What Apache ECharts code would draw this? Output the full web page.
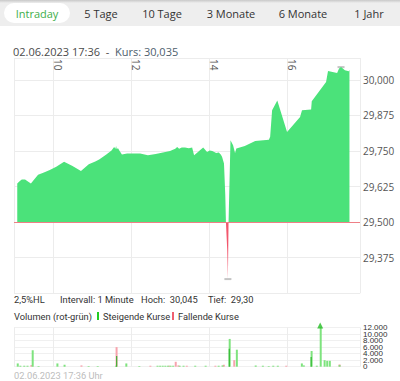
<!DOCTYPE html>
<html><head><meta charset="utf-8">
<script src="https://cdn.jsdelivr.net/npm/echarts@6/dist/echarts.min.js"></script>
<style>html,body{margin:0;padding:0;background:#fff;}#c{width:400px;height:381px;}</style>
</head><body><div id="c"></div>
<script>
// ---- data ----
const priceTimes = ['9:05','9:09','9:12','9:17','9:22','9:26','9:31','9:37','9:46','9:55','10:05','10:17','10:30','10:43','10:55','11:05','11:11','11:22','11:30','11:34','11:36','11:37','11:38','11:40','11:42','11:46','11:54','12:05','12:14','12:26','12:38','12:49','13:00','13:08','13:11','13:14','13:18','13:23','13:29','13:34','13:37','13:43','13:46','13:51','13:57','14:01','14:05','14:11','14:15','14:18','14:20','14:23','14:25','14:26','14:27','14:28','14:29','14:30','14:31','14:33','14:37','14:40','14:42','14:55','15:11','15:32','15:34','15:37','15:45','16:00','16:20','16:23','16:37','16:38','17:00','17:03','17:10','17:17','17:20','17:23','17:29','17:35','17:36'];
const priceValues = [29.636,29.645,29.650,29.650,29.642,29.636,29.650,29.667,29.675,29.683,29.695,29.712,29.697,29.680,29.704,29.713,29.720,29.738,29.752,29.764,29.758,29.768,29.757,29.760,29.752,29.738,29.741,29.741,29.741,29.735,29.740,29.745,29.750,29.758,29.764,29.758,29.762,29.762,29.760,29.762,29.735,29.747,29.753,29.762,29.747,29.752,29.750,29.743,29.745,29.738,29.730,29.706,29.595,29.500,29.500,29.400,29.300,29.500,29.500,29.788,29.770,29.743,29.759,29.768,29.785,29.790,29.800,29.893,29.928,29.817,29.870,29.893,29.896,29.925,29.993,30.031,30.028,30.024,30.040,30.045,30.034,30.030,30.035];
const markTimes = ['17:23','14:29'];
const markValues = [30.045, 29.30];

const upTimes = ['9:05','9:09','9:15','9:20','9:28','9:37','10:06','10:17','10:54','11:08','11:36','11:52','12:12','12:40','12:44','12:48','12:52','12:56','13:00','13:04','13:14','13:20','13:38','13:54','14:14','14:20','14:31','14:42','15:11','15:22','15:31','15:38','15:45','16:22','16:25','16:37','16:45','16:51','16:57','17:01','17:05','17:20'];
const upValues = [1000,300,300,300,5000,200,1000,600,200,200,300,1000,200,300,300,300,300,300,300,300,300,300,300,300,300,400,8500,5200,400,300,200,300,300,1000,400,4800,300,13000,2000,1800,1800,500];
const upDarkTimes = ['11:38','14:31','16:37'];
const upDarkValues = [3300,5500,3000];
const downTimes = ['9:26','10:43','11:37','12:29','12:58','13:08','13:12','13:25','14:09','14:22','14:38','15:58','17:20'];
const downValues = [500,400,6000,300,300,1500,400,300,300,600,2000,300,700];
const arrowTimes = ['16:51'];
const arrowValues = [12000];

const tabs = ['Intraday','5 Tage','10 Tage','3 Monate','6 Monate','1 Jahr'];
const priceTicks = [29.375,29.5,29.625,29.75,29.875,30.0];
const volTicksA = [0,4000,8000,12000];
const volTicksB = [2000,6000,10000];
const baseline = 29.5;

// ---- helpers ----
const toH = s => { const p = s.split(':').map(Number); return p[0] + p[1] / 60; };
const pairs = (t, v) => t.map((s, i) => [toH(s), v[i]]);
const deNum = v => v.toFixed(3).replace('.', ',');
const deThousand = v => v === 0 ? '0' : (v / 1000) + '.000';

const FONT = "'Open Sans', 'Noto Sans', sans-serif";
const SMALL = "Roboto, 'Open Sans', sans-serif";
const VOLFONT = "'Liberation Sans', Arial, sans-serif";
const chart = echarts.init(document.getElementById('c'), null, {renderer: 'svg'});

const tabCenters = [37, 101, 162, 231, 303, 369];
const graphics = [
  {type: 'rect', shape: {x: 0, y: 0, width: 400, height: 26}, style: {fill: '#eeeeee'}, silent: true},
  {type: 'rect', shape: {x: 0, y: 0, width: 400, height: 3}, style: {fill: new echarts.graphic.LinearGradient(0,0,0,1,[{offset:0,color:'#c8c8c8'},{offset:1,color:'#eeeeee'}])}, silent: true},
  {type: 'rect', shape: {x: 4, y: 3, width: 66, height: 20, r: 10}, style: {fill: '#ffffff'}, silent: true}
];
tabs.forEach((t, i) => graphics.push({type: 'text', x: tabCenters[i], y: 13, style: {text: t, fill: i === 0 ? '#3eae4a' : '#333', font: "11px " + FONT, textAlign: 'center', textVerticalAlign: 'middle'}}));
graphics.push(
  {type: 'text', x: 13, y: 51, style: {text: '{a|02.06.2023 17:36  -  }{b|Kurs: 30,035}', rich: {a: {fill: '#4a4a4a', font: "11px " + FONT}, b: {fill: '#4e5e6c', font: "11px " + FONT}}, textVerticalAlign: 'middle'}},
  {type: 'text', x: 14, y: 299, style: {text: '2,5%HL', fill: '#333', font: "9.3px " + SMALL, textVerticalAlign: 'middle'}},
  {type: 'text', x: 60, y: 299, style: {text: 'Intervall: 1 Minute', fill: '#333', font: "9.3px " + SMALL, textVerticalAlign: 'middle'}},
  {type: 'text', x: 141, y: 299, style: {text: 'Hoch:  30,045', fill: '#333', font: "9.3px " + SMALL, textVerticalAlign: 'middle'}},
  {type: 'text', x: 208, y: 299, style: {text: 'Tief:  29,30', fill: '#333', font: "9.3px " + SMALL, textVerticalAlign: 'middle'}},
  {type: 'text', x: 14, y: 316, style: {text: 'Volumen (rot-grün)', fill: '#333', font: "9.3px " + SMALL, textVerticalAlign: 'middle'}},
  {type: 'rect', shape: {x: 97, y: 312, width: 2, height: 8}, style: {fill: '#22cc22'}},
  {type: 'text', x: 103, y: 316, style: {text: 'Steigende Kurse', fill: '#333', font: "9.3px " + SMALL, textVerticalAlign: 'middle'}},
  {type: 'rect', shape: {x: 172, y: 312, width: 2, height: 8}, style: {fill: '#f06070'}},
  {type: 'text', x: 178, y: 316, style: {text: 'Fallende Kurse', fill: '#333', font: "9.3px " + SMALL, textVerticalAlign: 'middle'}},
  {type: 'text', x: 14, y: 375, style: {text: '02.06.2023 17:36 Uhr', fill: '#bdbdbd', font: "9.3px " + SMALL, textVerticalAlign: 'middle'}}
);

const xMin = 9, xMax = 17.87;
const volAxis = (ticks, showSplit) => ({type: 'value', gridIndex: 1, position: 'right', min: 0, max: 12000, interval: 2000,
  axisLine: {show: false}, axisTick: {show: false},
  axisLabel: {formatter: v => ticks.indexOf(v) >= 0 ? deThousand(v) : '', fontSize: 8, color: '#333', margin: 3, fontFamily: VOLFONT, lineHeight: 6, showMinLabel: true, showMaxLabel: true},
  splitLine: {show: showSplit, lineStyle: {color: '#f0f0f0'}}});

chart.setOption({
  animation: false,
  textStyle: {fontFamily: FONT},
  graphic: graphics,
  grid: [
    {left: 14, right: 40, top: 58, height: 235.3},
    {left: 14, right: 40, top: 327.5, height: 39.2}
  ],
  visualMap: {type: 'piecewise', show: false, seriesIndex: 0, dimension: 1,
    pieces: [{min: 29.0, max: baseline, color: '#f2566c'}, {min: baseline, max: 31.0, color: '#4be27a'}]},
  xAxis: [
    {type: 'value', gridIndex: 0, min: xMin, max: xMax, splitNumber: 5, position: 'top',
      axisLine: {show: false}, axisTick: {show: false},
      axisLabel: {inside: true, rotate: 90, margin: 1, showMinLabel: false, showMaxLabel: false, fontSize: 10, color: '#555', verticalAlign: 'bottom'},
      splitLine: {lineStyle: {color: '#ececec'}}},
    {type: 'value', gridIndex: 1, min: xMin, max: xMax, splitNumber: 5,
      axisLine: {show: false}, axisTick: {show: false}, axisLabel: {show: false},
      splitLine: {lineStyle: {color: '#ececec'}}}
  ],
  yAxis: [
    {type: 'value', gridIndex: 0, position: 'right', min: 29.25, max: 30.077, interval: 0.125,
      axisLine: {show: false}, axisTick: {show: false},
      axisLabel: {formatter: v => priceTicks.some(t => Math.abs(t - v) < 1e-6) ? deNum(v) : '', fontSize: 10, color: '#555', margin: 3},
      splitLine: {lineStyle: {color: '#ececec'}}},
    volAxis(volTicksA, true),
    volAxis(volTicksB, false)
  ],
  series: [
    {type: 'line', xAxisIndex: 0, yAxisIndex: 0, data: pairs(priceTimes, priceValues), showSymbol: false,
      lineStyle: {width: 0}, areaStyle: {origin: baseline, opacity: 1},
      markLine: {silent: true, symbol: 'none', label: {show: false}, lineStyle: {color: '#ee7f86', width: 1, type: 'solid'}, data: [{yAxis: baseline}]}},
    {type: 'scatter', xAxisIndex: 0, yAxisIndex: 0, data: pairs(markTimes, markValues), symbol: 'rect', symbolSize: [7, 2], itemStyle: {color: '#b5b5b5'}},
    {type: 'bar', xAxisIndex: 1, yAxisIndex: 1, data: pairs(downTimes, downValues), barWidth: 2, barGap: '-100%', itemStyle: {color: '#f7a3ad'}},
    {type: 'bar', xAxisIndex: 1, yAxisIndex: 1, data: pairs(upTimes, upValues), barWidth: 2, barGap: '-100%', itemStyle: {color: '#7ee37e'}},
    {type: 'bar', xAxisIndex: 1, yAxisIndex: 1, data: pairs(upDarkTimes, upDarkValues), barWidth: 1, barGap: '-100%', itemStyle: {color: '#1db01d'}},
    {type: 'scatter', xAxisIndex: 1, yAxisIndex: 1, data: pairs(arrowTimes, arrowValues), symbol: 'triangle', symbolSize: [6, 6], symbolOffset: [0, -2], itemStyle: {color: '#22bb22'}, clip: false}
  ]
});
</script></body></html>
